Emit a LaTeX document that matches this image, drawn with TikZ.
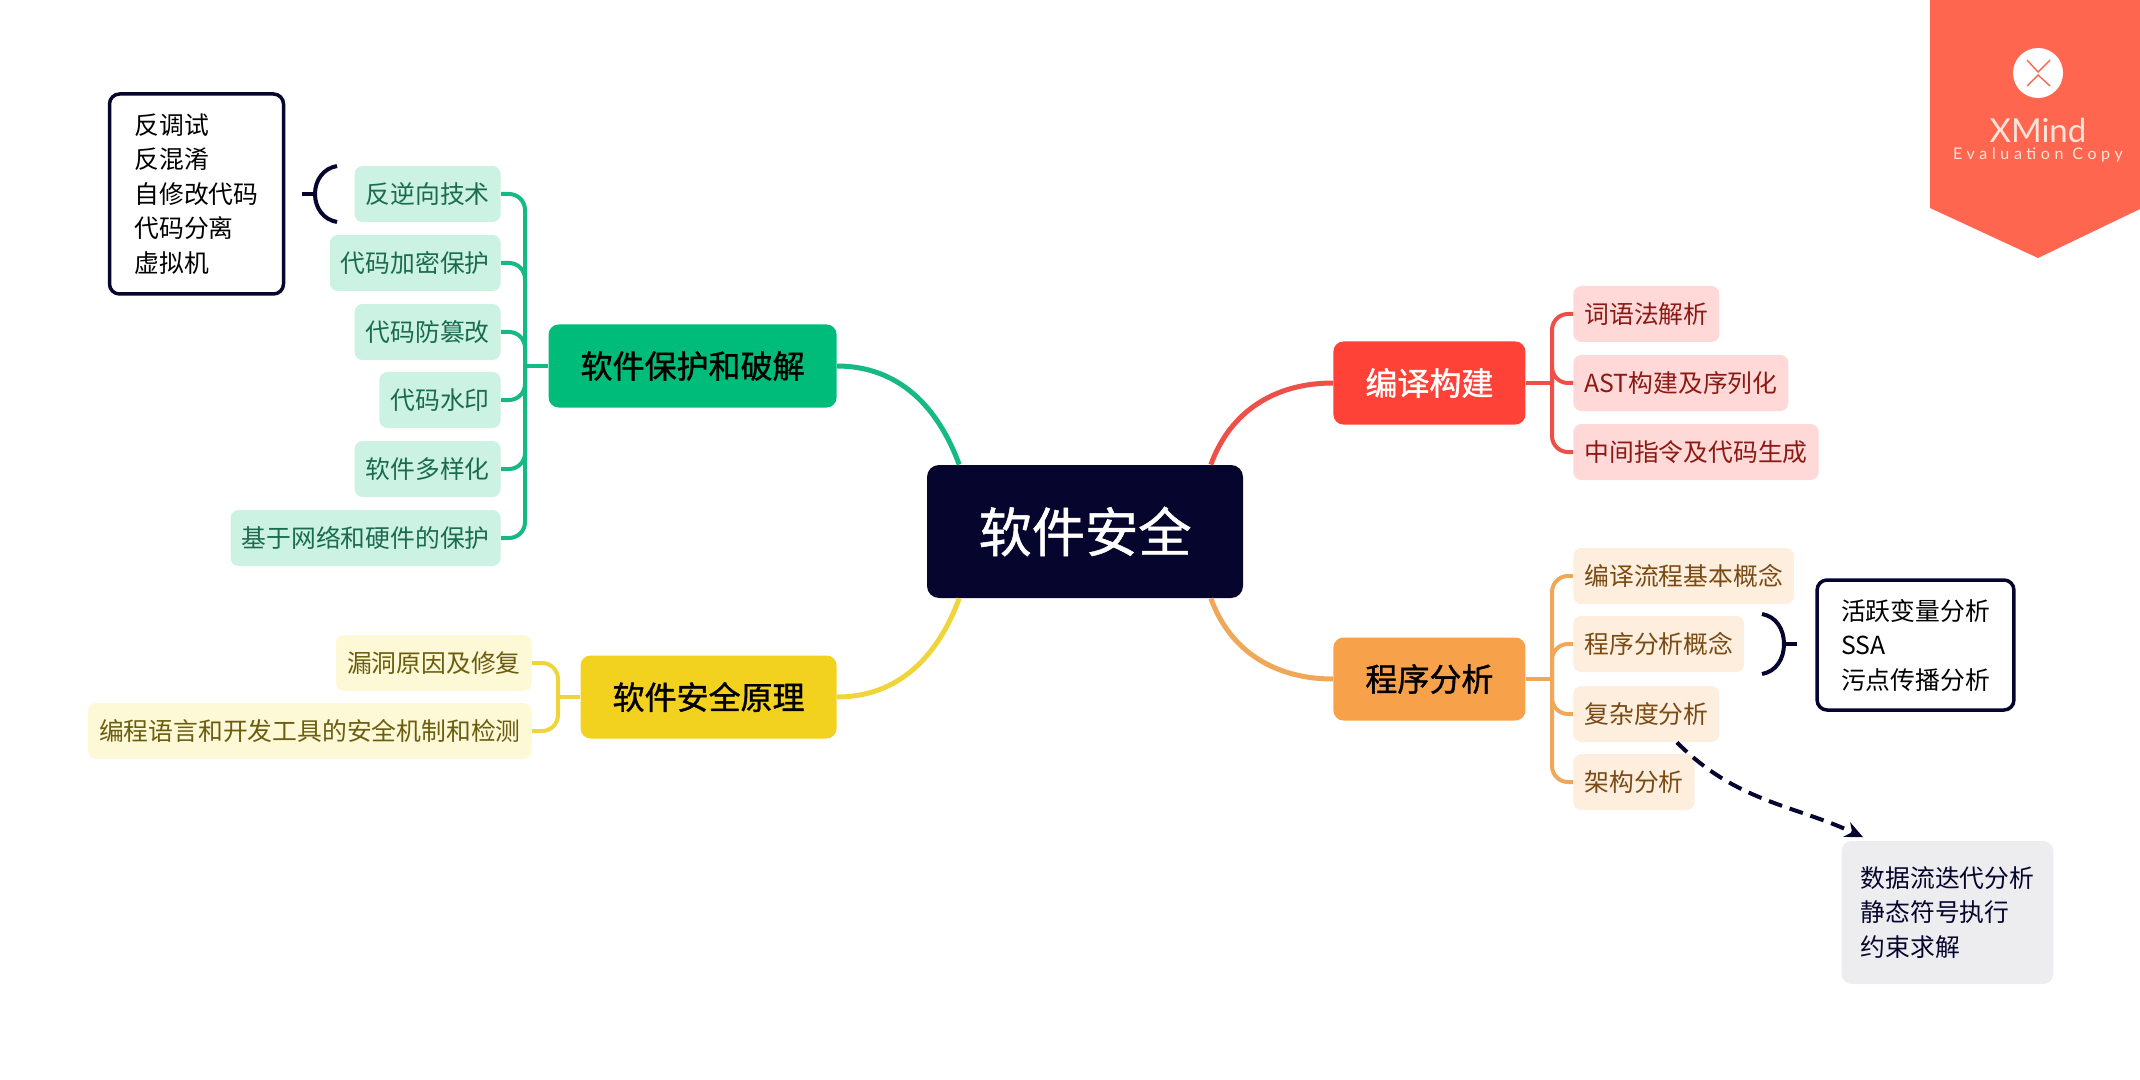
\documentclass[tikz,border=0pt]{standalone}
\usepackage{fontspec}
\setmainfont{Noto Sans CJK SC}
\newfontfamily\medfont[FakeBold=1.2]{Noto Sans CJK SC}
\newfontfamily\rootfont[FakeBold=0.9]{Noto Sans CJK SC}
\newfontfamily\markfont{Lato}
\newfontfamily\copyfont[LetterSpace=29]{Lato}
\usetikzlibrary{arrows.meta}
\definecolor{navy}{HTML}{05052E}
\definecolor{greenmain}{HTML}{00BC7B}
\definecolor{greenline}{HTML}{14B983}
\definecolor{greenlight}{HTML}{CCF2E4}
\definecolor{greentext}{HTML}{1B6B50}
\definecolor{yellowmain}{HTML}{F2D21F}
\definecolor{yellowline}{HTML}{F0D53A}
\definecolor{yellowlight}{HTML}{FDF8D5}
\definecolor{yellowtext}{HTML}{6B5D10}
\definecolor{redmain}{HTML}{FF4238}
\definecolor{redline}{HTML}{EE5048}
\definecolor{redlight}{HTML}{FFD9D7}
\definecolor{redtext}{HTML}{8B1A14}
\definecolor{orangemain}{HTML}{F7A14A}
\definecolor{orangeline}{HTML}{F0A858}
\definecolor{orangelight}{HTML}{FEEEDD}
\definecolor{orangetext}{HTML}{7A4A14}
\definecolor{greybox}{HTML}{EDEDF0}
\definecolor{badge}{HTML}{FF6650}
\definecolor{marktext}{HTML}{FFE4DA}
\begin{document}
\begin{tikzpicture}[x=0.5pt, y=-0.5pt,
	subnode/.style = {rounded corners=4pt, inner xsep=5.5pt, inner ysep=0pt, minimum height=28pt, font=\fontsize{12.4}{15}\selectfont},
	greensub/.style = {subnode, anchor=east, fill=greenlight, text=greentext},
	yellowsub/.style = {subnode, anchor=east, fill=yellowlight, text=yellowtext},
	redsub/.style = {subnode, anchor=west, fill=redlight, text=redtext},
	orangesub/.style = {subnode, anchor=west, fill=orangelight, text=orangetext},
	mainnode/.style = {rounded corners=5pt, inner xsep=16pt, inner ysep=0pt, minimum height=41.5pt, font=\medfont\fontsize{16}{20}\selectfont},
	notenode/.style = {rounded corners=5pt, align=left, inner ysep=0pt, font=\fontsize{12.4}{17.25}\selectfont},
	mainline/.style = {line width=2.5pt},
	subline/.style = {line width=2pt, rounded corners=8pt},
	brace/.style = {navy, line width=2pt},
	]
	\useasboundingbox (0,0) rectangle (2140,1080);

	% watermark
	\fill[badge] (1930,0) -- (2140,0) -- (2140,209) -- (2038,258) -- (1930,208) -- cycle;
	\node (markcircle) [circle, fill=white, minimum size=25pt, inner sep=0pt] at (2038,73) {};
	\draw[badge, line width=.7pt] (2027,60) -- (2038,72) -- (2050,60) (2027,86) -- (2038,75) -- (2050,86);
	\node (markname) [text=marktext, inner sep=0pt, font=\markfont\fontsize{16.5}{18}\selectfont] at (2038,130) {XMind};
	\node (markcopy) [text=marktext, inner sep=0pt, font=\copyfont\fontsize{8}{9}\selectfont] at (2038,155) {Evaluation Copy};

	% centre and main topics
	\node (rootnode) [rounded corners=6pt, fill=navy, text=white, minimum width=158pt, minimum height=66.5pt, inner sep=0pt, font=\rootfont\fontsize{26.6}{30}\selectfont] at (1085,531.5) {软件安全};
	\node (protect) [mainnode, anchor=east, fill=greenmain] at (837,366) {软件保护和破解};
	\node (principle) [mainnode, anchor=east, fill=yellowmain] at (837,697) {软件安全原理};
	\node (compile) [mainnode, anchor=west, fill=redmain, text=white] at (1333,383) {编译构建};
	\node (analysis) [mainnode, anchor=west, fill=orangemain] at (1333,679) {程序分析};

	\draw[mainline, greenline] (protect.east) to[out=0, in=110] (rootnode.152);
	\draw[mainline, yellowline] (principle.east) to[out=0, in=-110] (rootnode.208);
	\draw[mainline, redline] (compile.west) to[out=180, in=70] (rootnode.28);
	\draw[mainline, orangeline] (analysis.west) to[out=180, in=-70] (rootnode.-28);

	% sub topics
	\node (antirev) [greensub] at (501,194) {反逆向技术};
	\node (encrypt) [greensub] at (501,263) {代码加密保护};
	\node (tamper) [greensub] at (501,332) {代码防篡改};
	\node (watermark) [greensub] at (501,400) {代码水印};
	\node (diverse) [greensub] at (501,469) {软件多样化};
	\node (hardware) [greensub] at (501,538) {基于网络和硬件的保护};

	\node (vulfix) [yellowsub] at (532,663) {漏洞原因及修复};
	\node (langtool) [yellowsub] at (532,731) {编程语言和开发工具的安全机制和检测};

	\node (lexer) [redsub] at (1573,314) {词语法解析};
	\node (astnode) [redsub] at (1573,383) {AST构建及序列化};
	\node (irgen) [redsub] at (1573,452) {中间指令及代码生成};

	\node (flow) [orangesub] at (1573,576) {编译流程基本概念};
	\node (concept) [orangesub] at (1573,644) {程序分析概念};
	\node (complex) [orangesub] at (1573,714) {复杂度分析};
	\node (arch) [orangesub] at (1573,782) {架构分析};

	% trunks
	\coordinate (greentrunk) at (525,366);
	\coordinate (yellowtrunk) at (558,697);
	\coordinate (redtrunk) at (1552,383);
	\coordinate (orangetrunk) at (1552,679);

	\draw[subline, greenline] (protect.west) -- (greentrunk);
	\foreach \n in {antirev,encrypt,tamper,watermark,diverse,hardware}
		\draw[subline, greenline] (greentrunk) |- (\n.east);
	\draw[subline, yellowline] (principle.west) -- (yellowtrunk);
	\foreach \n in {vulfix,langtool}
		\draw[subline, yellowline] (yellowtrunk) |- (\n.east);
	\draw[subline, redline] (compile.east) -- (redtrunk);
	\foreach \n in {lexer,astnode,irgen}
		\draw[subline, redline] (redtrunk) |- (\n.west);
	\draw[subline, orangeline] (analysis.east) -- (orangetrunk);
	\foreach \n in {flow,concept,complex,arch}
		\draw[subline, orangeline] (orangetrunk) |- (\n.west);

	% notes
	\node (antinote) [notenode, draw=navy, line width=1.75pt, inner xsep=12.5pt, minimum height=100pt] at (196.5,194) {反调试\\反混淆\\自修改代码\\代码分离\\虚拟机};
	\node (conceptnote) [notenode, draw=navy, line width=1.75pt, inner xsep=12pt, minimum height=65pt] at (1915.5,645) {活跃变量分析\\SSA\\污点传播分析};
	\node (complexnote) [notenode, fill=greybox, text=navy, inner xsep=9.5pt, minimum height=71.5pt] at (1947.5,912.5) {数据流迭代分析\\静态符号执行\\约束求解};

	% braces
	\coordinate (leftup) at (337,166);
	\coordinate (leftmid) at (315,194);
	\coordinate (leftlow) at (337,222);
	\coordinate (lefttail) at (302,194);
	\draw[brace] (leftup) to[out=190, in=90] (leftmid) to[out=-90, in=170] (leftlow);
	\draw[brace] (leftmid) -- (lefttail);
	\coordinate (rightup) at (1762,614);
	\coordinate (rightmid) at (1784,644);
	\coordinate (rightlow) at (1762,674);
	\coordinate (righttail) at (1797,644);
	\draw[brace] (rightup) to[out=-10, in=90] (rightmid) to[out=-90, in=10] (rightlow);
	\draw[brace] (rightmid) -- (righttail);

	\draw[navy, line width=2pt, dash pattern=on 7pt off 4pt, -{Stealth[length=9pt, width=8pt]}, shorten >=4pt] (complex.-43) to[out=-45, in=155] (complexnote.137);
\end{tikzpicture}
\end{document}
